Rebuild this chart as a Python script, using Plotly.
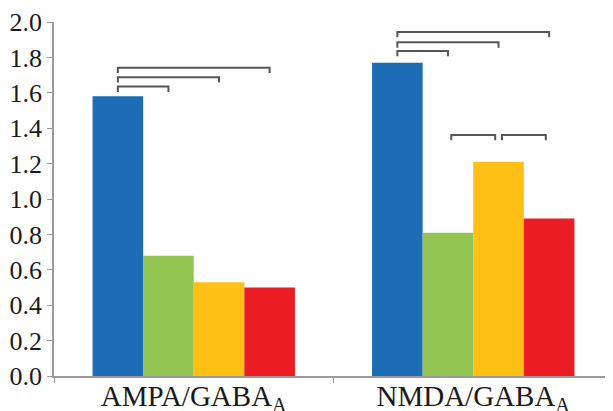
import plotly.graph_objects as go

categories = ["AMPA/GABA<sub>A</sub>", "NMDA/GABA<sub>A</sub>"]
series_names = ["S1", "S2", "S3", "S4"]
series_values = [
    [1.58, 1.77],
    [0.68, 0.81],
    [0.53, 1.21],
    [0.50, 0.89],
]
series_colors = ["#1C6DB6", "#93C553", "#FFBF14", "#EC1C24"]
y_ticks = [0.0, 0.2, 0.4, 0.6, 0.8, 1.0, 1.2, 1.4, 1.6, 1.8, 2.0]
# significance brackets: (group index, from bar, to bar, height)
brackets = [
    (0, 0, 1, 1.635), (0, 0, 2, 1.688), (0, 0, 3, 1.742),
    (1, 0, 1, 1.836), (1, 0, 2, 1.885), (1, 0, 3, 1.944),
    (1, 1, 2, 1.362), (1, 2, 3, 1.362),
]

BARGAP = 0.276
n = len(series_values)
bw = (1 - BARGAP) / n
SERIF = "Liberation Serif"

fig = go.Figure()
for name, vals, col in zip(series_names, series_values, series_colors):
    fig.add_trace(go.Bar(x=categories, y=vals, name=name, marker_color=col,
                         marker_line_width=0))

def bar_center(g, b):
    return g - (1 - BARGAP) / 2 + bw * (b + 0.5)

drop = 0.03
for g, b0, b1, h in brackets:
    x0 = bar_center(g, b0)
    x1 = bar_center(g, b1)
    if b0 != 0:
        x0 += 0.012
        x1 -= 0.012
    fig.add_shape(type="path",
                  path=f"M {x0},{h-drop} L {x0},{h} L {x1},{h} L {x1},{h-drop}",
                  xref="x", yref="y", line=dict(color="#555555", width=2))

fig.update_layout(
    width=605, height=403,
    barmode="group", bargap=BARGAP, bargroupgap=0,
    showlegend=False,
    plot_bgcolor="white", paper_bgcolor="white",
    margin=dict(l=46, r=0, t=14, b=35),
    font=dict(family=SERIF, color="#1a1a1a"),
)
fig.update_xaxes(showline=True, linecolor="#9a9a9a", linewidth=1.5,
                 ticks="outside", tickson="boundaries", ticklen=5, tickcolor="#9a9a9a",
                 tickfont=dict(size=29, family=SERIF, color="#1a1a1a"),
                 ticklabelstandoff=-7,
                 automargin=False, showgrid=False)
fig.update_yaxes(range=[0, 2.0], tickvals=y_ticks, ticktext=[f"{v:.1f}" for v in y_ticks],
                 showline=True, linecolor="#9a9a9a", linewidth=1.5,
                 ticks="outside", ticklen=5, tickcolor="#9a9a9a",
                 tickfont=dict(size=26, family=SERIF, color="#1a1a1a"),
                 automargin=False, showgrid=False, zeroline=False)

fig.write_html("out.html")
